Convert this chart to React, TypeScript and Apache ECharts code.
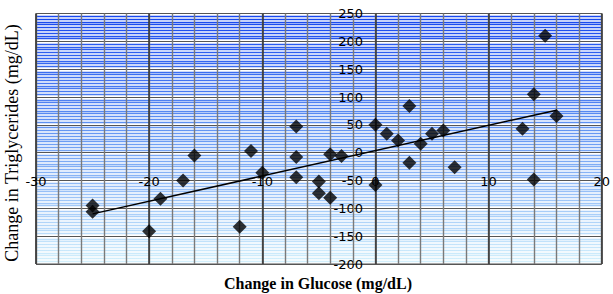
import React, { useEffect, useRef } from "react";
import * as echarts from "echarts";

const glucose = [-25, -25, -20, -19, -17, -16, -12, -11, -10, -7, -7, -7, -5, -5, -4, -4, -3, 0, 0, 1, 2, 3, 3, 4, 5, 6, 7, 13, 14, 14, 15, 16];
const triglycerides = [-95, -106, -141, -83, -50, -5, -133, 3, -36, 47, -8, -44, -52, -73, -81, -3, -6, 50, -58, 34, 22, 84, -18, 16, 34, 40, -26, 43, 105, -48, 210, 66];

const xTitle = "Change in Glucose (mg/dL)";
const yTitle = "Change in Triglycerides (mg/dL)";

function regression(xs: number[], ys: number[]) {
  const n = xs.length;
  const mx = xs.reduce((a, b) => a + b, 0) / n;
  const my = ys.reduce((a, b) => a + b, 0) / n;
  let sxy = 0;
  let sxx = 0;
  for (let i = 0; i < n; i++) {
    sxy += (xs[i] - mx) * (ys[i] - my);
    sxx += (xs[i] - mx) * (xs[i] - mx);
  }
  const slope = sxy / sxx;
  const intercept = my - slope * mx;
  const x0 = Math.min(...xs);
  const x1 = Math.max(...xs);
  return [
    [x0, intercept + slope * x0],
    [x1, intercept + slope * x1],
  ];
}

export default function App() {
  const ref = useRef<HTMLDivElement>(null);
  useEffect(() => {
    if (!ref.current) return;
    const chart = echarts.init(ref.current, null, { renderer: "svg" });
    const tickFont = { fontFamily: "DejaVu Sans", fontSize: 13, color: "#000" };
    chart.setOption({
      animation: false,
      grid: {
        left: 36,
        right: 2,
        top: 13.5,
        bottom: 30,
        show: true,
        borderColor: "#505050",
        borderWidth: 1,
      },
      xAxis: [
        {
          type: "value",
          position: "bottom",
          offset: -83.5,
          min: -30,
          max: 20,
          interval: 10,
          axisLine: { show: false, onZero: false },
          axisTick: { show: false },
          axisLabel: { ...tickFont, margin: 1, verticalAlign: "middle" },
          splitLine: { show: true, lineStyle: { color: "#333333", width: 1.5 } },
          z: 2,
        },
        {
          type: "value",
          position: "top",
          min: -30,
          max: 20,
          interval: 2,
          axisLine: { show: false, onZero: false },
          axisTick: { show: false },
          axisLabel: { show: false },
          splitLine: { show: true, lineStyle: { color: "#7a7a7a", width: 1.4 } },
          z: 1,
        },
      ],
      yAxis: {
        type: "value",
        position: "left",
        offset: -345,
        min: -200,
        max: 250,
        interval: 50,
        axisLine: { show: false, onZero: false },
        axisTick: { show: false },
        axisLabel: { ...tickFont, margin: 18 },
        splitLine: { show: true, lineStyle: { color: "#555555", width: 1.2 } },
        minorTick: { show: true, splitNumber: 10, length: 0 },
        minorSplitLine: {
          show: true,
          lineStyle: {
            width: 1.3,
            color: new echarts.graphic.LinearGradient(
              0, 13, 0, 264,
              [
                { offset: 0, color: "#1444ee" },
                { offset: 0.45, color: "#5f92f2" },
                { offset: 1, color: "#d4f1fc" },
              ],
              true
            ),
          },
        },
        z: 0,
      },
      series: [
        {
          type: "scatter",
          data: glucose.map((g, i) => [g, triglycerides[i]]),
          symbol: "diamond",
          symbolSize: 14,
          itemStyle: { color: "#000" },
          z: 3,
        },
        {
          type: "line",
          data: regression(glucose, triglycerides),
          symbol: "none",
          lineStyle: { color: "#000", width: 1.5 },
          z: 4,
        },
      ],
      graphic: [
        {
          type: "text",
          x: 12,
          y: 143,
          rotation: Math.PI / 2,
          style: {
            text: yTitle,
            font: "18px 'Liberation Serif'",
            fill: "#000",
            textAlign: "center",
            textVerticalAlign: "middle",
          },
        },
        {
          type: "text",
          x: 318,
          y: 283,
          style: {
            text: xTitle,
            font: "bold 16px 'Liberation Serif'",
            fill: "#000",
            textAlign: "center",
            textVerticalAlign: "middle",
          },
        },
      ],
    });
    return () => chart.dispose();
  }, []);
  return (
    <div
      ref={ref}
      style={{ position: "fixed", left: 0, top: 0, width: 613, height: 294, background: "#fff" }}
    />
  );
}
